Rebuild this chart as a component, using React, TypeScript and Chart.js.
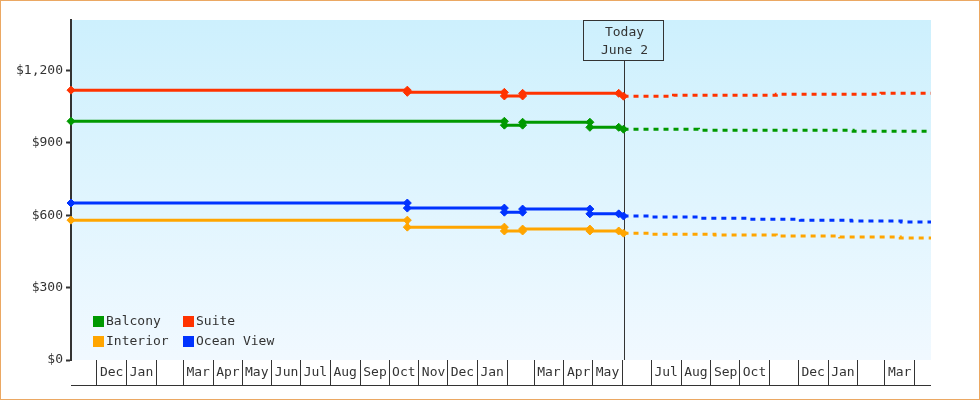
import React, { useEffect, useRef } from 'react';
import { Chart, registerables } from 'chart.js';

Chart.register(...registerables);

// ---------- data ----------
const X_MIN = '2020-11-04';
const X_MAX = '2023-04-18';
const TODAY = '2022-06-02';
const todayLines = ['Today', 'June 2'];

const monthStarts = [
  '2020-12-01', '2021-01-01', '2021-02-01', '2021-03-01', '2021-04-01', '2021-05-01',
  '2021-06-01', '2021-07-01', '2021-08-01', '2021-09-01', '2021-10-01', '2021-11-01',
  '2021-12-01', '2022-01-01', '2022-02-01', '2022-03-01', '2022-04-01', '2022-05-01',
  '2022-06-01', '2022-07-01', '2022-08-01', '2022-09-01', '2022-10-01', '2022-11-01',
  '2022-12-01', '2023-01-01', '2023-02-01', '2023-03-01', '2023-04-01',
];
const monthLabels = [
  'Dec', 'Jan', '', 'Mar', 'Apr', 'May', 'Jun', 'Jul', 'Aug', 'Sep', 'Oct', 'Nov',
  'Dec', 'Jan', '', 'Mar', 'Apr', 'May', '', 'Jul', 'Aug', 'Sep', 'Oct', '',
  'Dec', 'Jan', '', 'Mar', '',
];

const yTicks = [0, 300, 600, 900, 1200];
const Y_MAX = 1410;

const seriesNames = ['Balcony', 'Suite', 'Interior', 'Ocean View'];
const seriesColors = ['#009900', '#ff3300', '#ffa500', '#0033ff'];

const balconyHistDates = ['2020-11-04', '2022-01-29', '2022-01-29', '2022-02-17', '2022-02-17', '2022-04-28', '2022-04-28', '2022-05-28', '2022-06-02'];
const balconyHistValues = [990, 990, 974, 974, 986, 986, 965, 965, 957];
const suiteHistDates = ['2020-11-04', '2021-10-20', '2021-10-20', '2022-01-29', '2022-01-29', '2022-02-17', '2022-02-17', '2022-05-28', '2022-06-02'];
const suiteHistValues = [1119, 1119, 1110, 1110, 1095, 1095, 1106, 1106, 1094];
const interiorHistDates = ['2020-11-04', '2021-10-20', '2021-10-20', '2022-01-29', '2022-01-29', '2022-02-17', '2022-02-17', '2022-04-28', '2022-04-28', '2022-05-28', '2022-06-02'];
const interiorHistValues = [580, 580, 551, 551, 535, 535, 543, 543, 535, 535, 526];
const oceanHistDates = ['2020-11-04', '2021-10-20', '2021-10-20', '2022-01-29', '2022-01-29', '2022-02-17', '2022-02-17', '2022-04-28', '2022-04-28', '2022-05-28', '2022-06-02'];
const oceanHistValues = [651, 651, 630, 630, 613, 613, 626, 626, 606, 606, 597];

const balconyFcDates = ['2022-06-02', '2022-08-19', '2023-01-27', '2023-04-18'];
const balconyFcValues = [957, 953, 949, 949];
const suiteFcDates = ['2022-06-02', '2022-07-24', '2022-11-08', '2023-02-25', '2023-04-18'];
const suiteFcValues = [1094, 1098, 1102, 1106, 1106];
const interiorFcDates = ['2022-06-02', '2022-07-02', '2022-09-05', '2022-11-08', '2023-01-13', '2023-03-17', '2023-04-18'];
const interiorFcValues = [526, 522, 518, 514, 510, 506, 506];
const oceanFcDates = ['2022-06-02', '2022-07-01', '2022-08-21', '2022-10-12', '2022-12-03', '2023-01-25', '2023-03-18', '2023-04-18'];
const oceanFcValues = [597, 593, 588, 584, 580, 576, 572, 572];

// ---------- helpers ----------
const FONT = "'DejaVu Sans Mono', monospace";
const TEXT = '#333333';
const day = (s: string) => {
  const [y, m, d] = s.split('-').map(Number);
  return Date.UTC(y, m - 1, d) / 86400000;
};
const pts = (dates: string[], vals: number[]) => dates.map((d, i) => ({ x: day(d), y: vals[i] }));

const histDs = (label: string, color: string, dates: string[], vals: number[]) => ({
  label,
  data: pts(dates, vals),
  borderColor: color,
  backgroundColor: color,
  borderWidth: 3,
  pointStyle: 'rectRot',
  pointRadius: 4,
  pointBorderWidth: 1,
  pointBackgroundColor: color,
  pointBorderColor: color,
  tension: 0,
  clip: false,
});
const fcDs = (label: string, color: string, dates: string[], vals: number[]) => ({
  label,
  data: pts(dates, vals),
  borderColor: color,
  borderWidth: 3,
  borderDash: [5, 5],
  pointRadius: 0,
  stepped: true,
  tension: 0,
});

const bgPlugin = {
  id: 'bgGradient',
  beforeDraw(chart: any) {
    const { ctx, chartArea: a } = chart;
    const g = ctx.createLinearGradient(0, a.top, 0, a.bottom);
    g.addColorStop(0, '#cdf0fd');
    g.addColorStop(1, '#f1f9ff');
    ctx.save();
    ctx.fillStyle = g;
    ctx.fillRect(a.left, a.top, a.right - a.left, a.bottom - a.top);
    ctx.restore();
  },
};

const todayPlugin = {
  id: 'todayMarker',
  beforeDatasetsDraw(chart: any) {
    const { ctx, chartArea: a } = chart;
    const x = Math.round(chart.scales.x.getPixelForValue(day(TODAY))) + 0.5;
    const top = a.top + 0.5;
    const w = 80;
    const h = 40;
    ctx.save();
    ctx.strokeStyle = TEXT;
    ctx.lineWidth = 1;
    ctx.strokeRect(x - 1 - w / 2, top, w, h);
    ctx.beginPath();
    ctx.moveTo(x, top + h);
    ctx.lineTo(x, a.bottom);
    ctx.stroke();
    ctx.fillStyle = TEXT;
    ctx.font = `13px ${FONT}`;
    ctx.textAlign = 'center';
    ctx.textBaseline = 'middle';
    ctx.fillText(todayLines[0], x, a.top + 13);
    ctx.fillText(todayLines[1], x, a.top + 31);
    ctx.restore();
  },
};

const axisBottomPlugin = {
  id: 'axisBottom',
  afterDraw(chart: any) {
    const { ctx } = chart;
    const s = chart.scales.x;
    ctx.save();
    ctx.strokeStyle = TEXT;
    ctx.lineWidth = 1;
    ctx.beginPath();
    ctx.moveTo(s.left, s.top + 25.5);
    ctx.lineTo(s.right, s.top + 25.5);
    ctx.stroke();
    ctx.restore();
  },
};

export default function App() {
  const ref = useRef<HTMLCanvasElement | null>(null);

  useEffect(() => {
    document.body.style.margin = '0';
    const canvas = ref.current;
    if (!canvas) return;
    const chart = new Chart(canvas, {
      type: 'line',
      data: {
        datasets: [
          histDs(seriesNames[0], seriesColors[0], balconyHistDates, balconyHistValues),
          histDs(seriesNames[1], seriesColors[1], suiteHistDates, suiteHistValues),
          histDs(seriesNames[2], seriesColors[2], interiorHistDates, interiorHistValues),
          histDs(seriesNames[3], seriesColors[3], oceanHistDates, oceanHistValues),
          fcDs(seriesNames[0] + ' forecast', seriesColors[0], balconyFcDates, balconyFcValues),
          fcDs(seriesNames[1] + ' forecast', seriesColors[1], suiteFcDates, suiteFcValues),
          fcDs(seriesNames[2] + ' forecast', seriesColors[2], interiorFcDates, interiorFcValues),
          fcDs(seriesNames[3] + ' forecast', seriesColors[3], oceanFcDates, oceanFcValues),
        ] as any,
      },
      options: {
        responsive: false,
        animation: false,
        events: [],
        layout: { padding: { left: 0, top: 19, right: 48, bottom: 14 } },
        plugins: { legend: { display: false }, tooltip: { enabled: false } },
        scales: {
          x: {
            type: 'linear',
            min: day(X_MIN),
            max: day(X_MAX),
            afterBuildTicks: (s: any) => {
              s.ticks = monthStarts.map((d) => ({ value: day(d) }));
            },
            afterFit: (s: any) => {
              s.height = 25;
            },
            border: { display: false },
            grid: {
              drawOnChartArea: false,
              drawTicks: true,
              tickLength: 25,
              tickWidth: 1,
              tickColor: TEXT,
            },
            ticks: {
              autoSkip: false,
              maxRotation: 0,
              minRotation: 0,
              align: 'start',
              labelOffset: 3,
              padding: -20,
              color: TEXT,
              font: { family: FONT, size: 13 },
              callback: (_v: any, i: number) => monthLabels[i] ?? '',
            },
          },
          y: {
            type: 'linear',
            min: 0,
            max: Y_MAX,
            afterBuildTicks: (s: any) => {
              s.ticks = yTicks.map((v) => ({ value: v }));
            },
            afterFit: (s: any) => {
              s.width = 70;
            },
            border: { display: true, color: TEXT, width: 2 },
            grid: {
              drawOnChartArea: false,
              drawTicks: true,
              tickLength: 5,
              tickWidth: 2,
              tickColor: TEXT,
            },
            ticks: {
              padding: 3,
              color: TEXT,
              font: { family: FONT, size: 13 },
              callback: (v: any) => '$' + Number(v).toLocaleString('en-US'),
            },
          },
        },
      } as any,
      plugins: [bgPlugin, todayPlugin, axisBottomPlugin],
    });
    return () => chart.destroy();
  }, []);

  const legendPos = [
    [92, 314],
    [182, 314],
    [92, 334],
    [182, 334],
  ];

  return (
    <div
      style={{
        position: 'relative',
        width: 980,
        height: 400,
        boxSizing: 'border-box',
        border: '1px solid #eba863',
        background: '#ffffff',
      }}
    >
      <canvas ref={ref} width={978} height={398} style={{ display: 'block' }} />
      {seriesNames.map((name, i) => (
        <div
          key={name}
          style={{
            position: 'absolute',
            left: legendPos[i][0],
            top: legendPos[i][1],
            height: 12,
            display: 'flex',
            alignItems: 'center',
            gap: 2,
            fontFamily: FONT,
            fontSize: 13,
            color: TEXT,
            lineHeight: '12px',
            whiteSpace: 'nowrap',
          }}
        >
          <span style={{ display: 'inline-block', width: 11, height: 11, background: seriesColors[i] }} />
          <span>{name}</span>
        </div>
      ))}
    </div>
  );
}
